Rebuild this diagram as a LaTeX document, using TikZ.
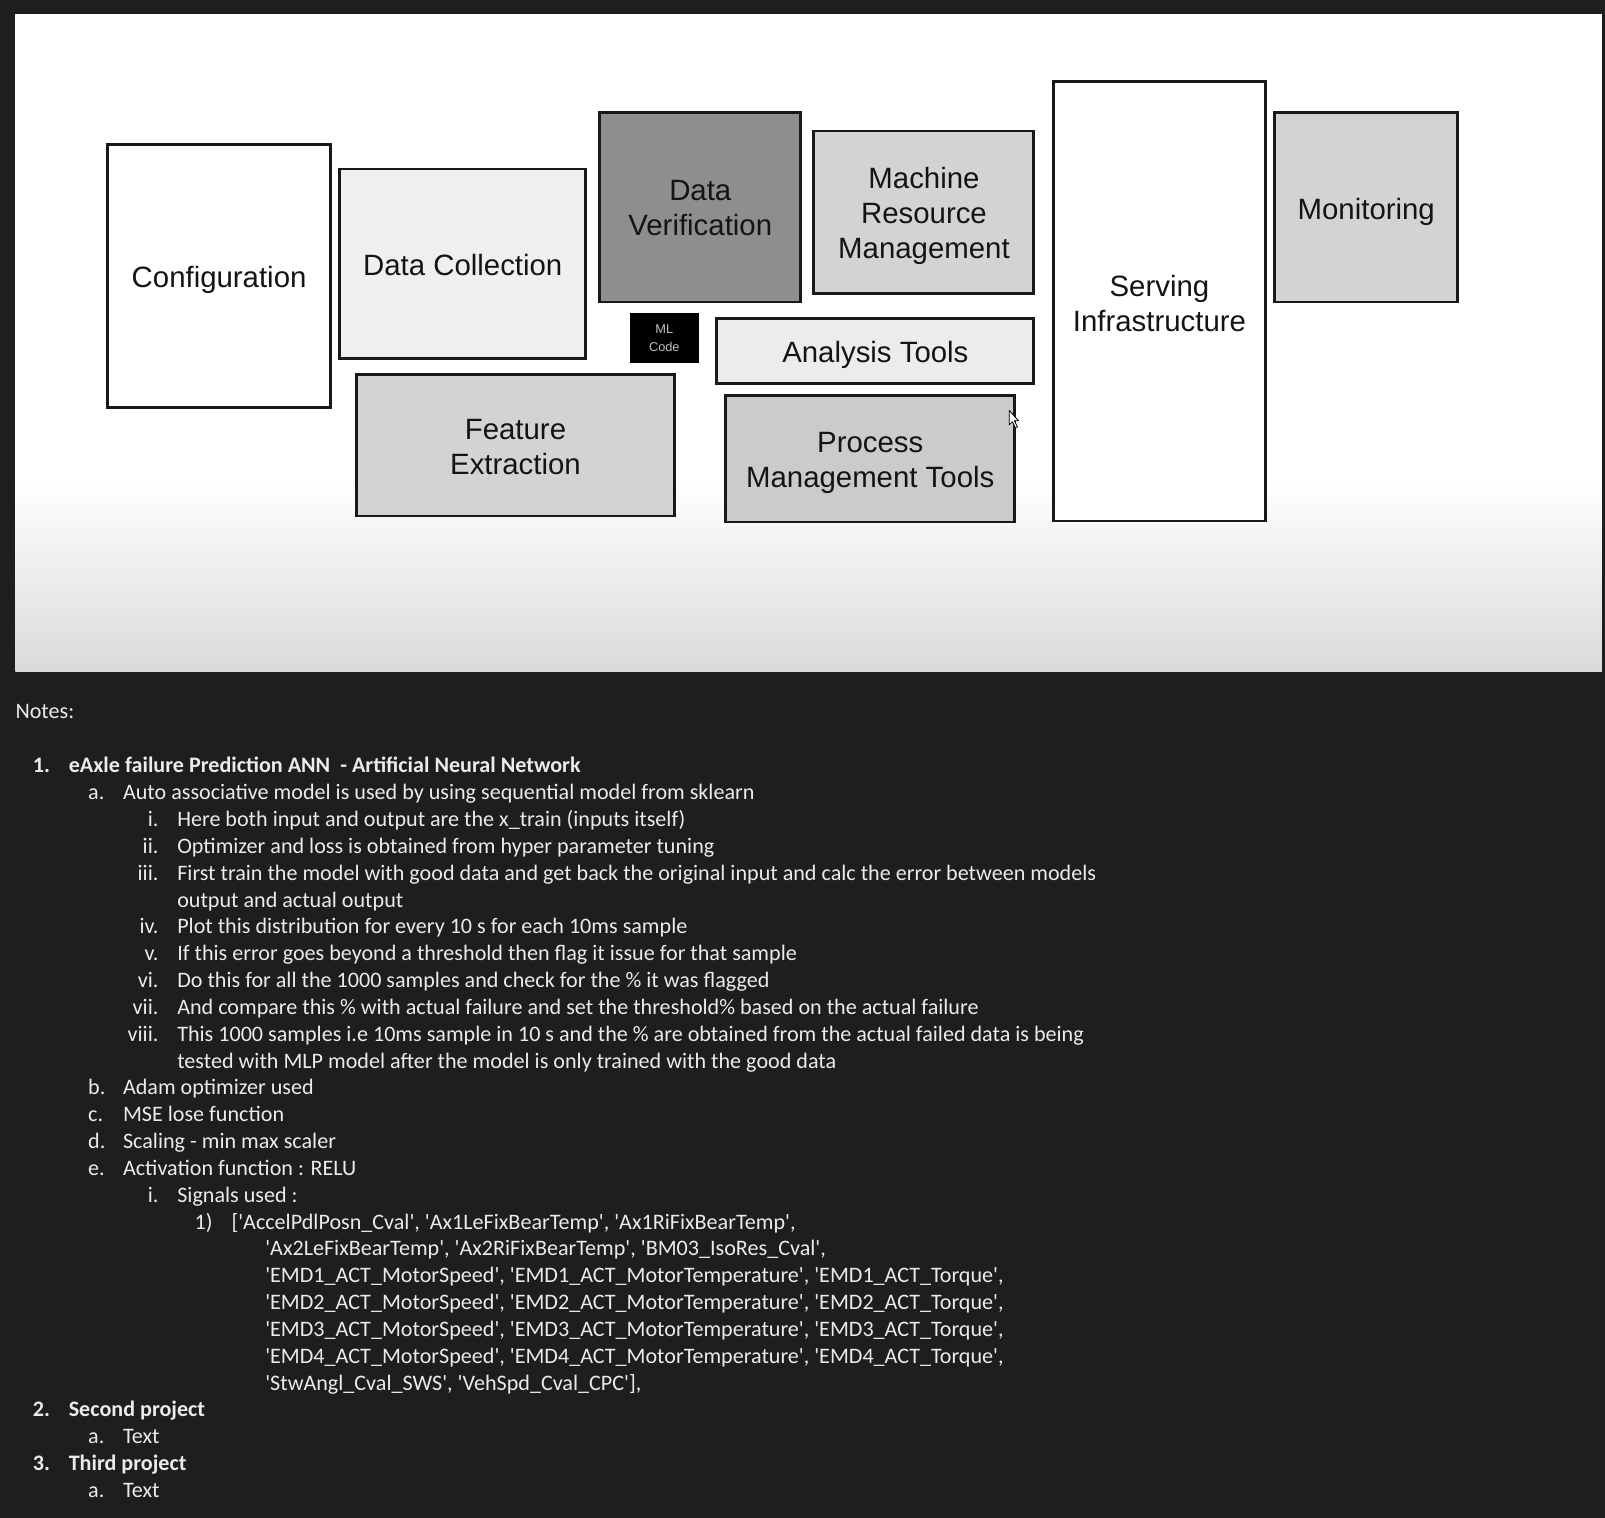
\documentclass[tikz,border=0pt]{standalone}
\usepackage{fontspec}
\newfontfamily\diafont{Liberation Sans}
\newfontfamily\notefont{Carlito}
\definecolor{bgdark}{HTML}{1E1E1E}
\definecolor{notetext}{HTML}{EBEBEB}
\definecolor{verif}{HTML}{8E8E8E}
\definecolor{midgray}{HTML}{D3D3D3}
\definecolor{procgray}{HTML}{CBCBCB}
\definecolor{lightA}{HTML}{EFEFEF}
\definecolor{lightB}{HTML}{ECECEC}
\definecolor{slidebottom}{HTML}{DADADA}
\begin{document}
\begin{tikzpicture}[x=1pt,y=-1pt,scale=1.0236,
  every node/.append style={transform shape},
  box/.style={draw=black!90, line width=2.8pt, inner sep=0pt},
  boxtext/.style={align=center, inner sep=0pt, text=black!92,
    font=\diafont\fontsize{28.7}{34}\selectfont},
  nt/.style={inner sep=0pt, anchor=base west, text=notetext,
    font=\notefont\fontsize{21.6}{26}\selectfont},
  ntb/.style={nt, font=\notefont\bfseries\fontsize{21.6}{26}\selectfont},
  nl/.style={nt, anchor=base east},
]
\useasboundingbox (0,0) rectangle (1568,1483);
\fill[bgdark] (0,0) rectangle (1568,1483);
% slide
\fill[white] (15,14) rectangle (1565,656);
\shade[top color=white, bottom color=slidebottom] (15,470) rectangle (1565,656);

% boxes
\node[box, fill=white, minimum width=218, minimum height=257] (config) at (214,269.5) {};
\node[box, fill=lightA, minimum width=240, minimum height=185] (dcoll) at (452,257.5) {};
\node[box, fill=verif, minimum width=196, minimum height=185] (dver) at (684,202.5) {};
\node[box, fill=midgray, minimum width=215, minimum height=159] (mrm) at (902.5,207.5) {};
\node[fill=black, minimum width=68, minimum height=49, inner sep=0pt, align=center, text=black!25,
  font=\diafont\fontsize{12.5}{17}\selectfont] (ml) at (649,330.5) {ML\\Code};
\node[box, fill=lightB, minimum width=310, minimum height=64] (anal) at (855,343) {};
\node[box, fill=midgray, minimum width=311, minimum height=138] (feat) at (503.5,435) {};
\node[box, fill=procgray, minimum width=282, minimum height=124] (proc) at (850,448) {};
\node[box, fill=white, minimum width=207, minimum height=429] (serv) at (1132.5,294.5) {};
\node[box, fill=midgray, minimum width=179, minimum height=185] (mon) at (1334.5,202.5) {};

% box texts
\node[boxtext] (configT) at ([yshift=-4pt]config.center) {Configuration};
\node[boxtext] (dcollT) at ([yshift=-1.5pt]dcoll.center) {Data Collection};
\node[boxtext] (dverT) at ([yshift=-1pt]dver.center) {Data\\Verification};
\node[boxtext] (mrmT) at ([yshift=-3.5pt]mrm.center) {Machine\\Resource\\Management};
\node[boxtext] (analT) at ([yshift=-4pt]anal.center) {Analysis Tools};
\node[boxtext] (featT) at ([yshift=-2pt]feat.center) {Feature\\Extraction};
\node[boxtext] (procT) at ([yshift=-4pt]proc.center) {Process\\Management Tools};
\node[boxtext] (servT) at ([yshift=-2pt]serv.center) {Serving\\Infrastructure};
\node[boxtext] (monT) at ([yshift=-4pt]mon.center) {Monitoring};

% mouse cursor
\filldraw[fill=white, draw=black, line width=0.8pt, line join=round]
  (986,401) -- (986,415) -- (989,412) -- (992,418) -- (994,417) -- (991,411) -- (995,411) -- cycle;

% notes
\node[nt] (notes) at (15,702) {Notes:};

\node[ntb] (l0n) at (32,755) {1.};
\node[ntb] (l0) at (67,755) {eAxle failure Prediction ANN~ - Artificial Neural Network};
\node[nt] (l1n) at (86,781.2) {a.};
\node[nt] (l1) at (120,781.2) {Auto associative model is used by using sequential model from sklearn};
\node[nl] (l2n) at (155,807.4) {i.};
\node[nt] (l2) at (173,807.4) {Here both input and output are the x\_train (inputs itself)};
\node[nl] (l3n) at (155,833.7) {ii.};
\node[nt] (l3) at (173,833.7) {Optimizer and loss is obtained from hyper parameter tuning};
\node[nl] (l4n) at (155,859.9) {iii.};
\node[nt] (l4) at (173,859.9) {First train the model with good data and get back the original input and calc the error between models};
\node[nt] (l5) at (173,886.1) {output and actual output};
\node[nl] (l6n) at (155,912.3) {iv.};
\node[nt] (l6) at (173,912.3) {Plot this distribution for every 10 s for each 10ms sample};
\node[nl] (l7n) at (155,938.5) {v.};
\node[nt] (l7) at (173,938.5) {If this error goes beyond a threshold then flag it issue for that sample};
\node[nl] (l8n) at (155,964.8) {vi.};
\node[nt] (l8) at (173,964.8) {Do this for all the 1000 samples and check for the \% it was flagged};
\node[nl] (l9n) at (155,991.0) {vii.};
\node[nt] (l9) at (173,991.0) {And compare this \% with actual failure and set the threshold\% based on the actual failure};
\node[nl] (l10n) at (155,1017.2) {viii.};
\node[nt] (l10) at (173,1017.2) {This 1000 samples i.e 10ms sample in 10 s and the \% are obtained from the actual failed data is being};
\node[nt] (l11) at (173,1043.4) {tested with MLP model after the model is only trained with the good data};
\node[nt] (l12n) at (86,1069.6) {b.};
\node[nt] (l12) at (120,1069.6) {Adam optimizer used};
\node[nt] (l13n) at (86,1095.9) {c.};
\node[nt] (l13) at (120,1095.9) {MSE lose function};
\node[nt] (l14n) at (86,1122.1) {d.};
\node[nt] (l14) at (120,1122.1) {Scaling - min max scaler};
\node[nt] (l15n) at (86,1148.3) {e.};
\node[nt] (l15) at (120,1148.3) {Activation function : RELU};
\node[nl] (l16n) at (155,1174.5) {i.};
\node[nt] (l16) at (173,1174.5) {Signals used :};
\node[nt] (l17n) at (190,1200.7) {1)};
\node[nt] (l17) at (226,1200.7) {['AccelPdlPosn\_Cval', 'Ax1LeFixBearTemp', 'Ax1RiFixBearTemp',};
\node[nt] (l18) at (259,1227.0) {'Ax2LeFixBearTemp', 'Ax2RiFixBearTemp', 'BM03\_IsoRes\_Cval',};
\node[nt] (l19) at (259,1253.2) {'EMD1\_ACT\_MotorSpeed', 'EMD1\_ACT\_MotorTemperature', 'EMD1\_ACT\_Torque',};
\node[nt] (l20) at (259,1279.4) {'EMD2\_ACT\_MotorSpeed', 'EMD2\_ACT\_MotorTemperature', 'EMD2\_ACT\_Torque',};
\node[nt] (l21) at (259,1305.6) {'EMD3\_ACT\_MotorSpeed', 'EMD3\_ACT\_MotorTemperature', 'EMD3\_ACT\_Torque',};
\node[nt] (l22) at (259,1331.8) {'EMD4\_ACT\_MotorSpeed', 'EMD4\_ACT\_MotorTemperature', 'EMD4\_ACT\_Torque',};
\node[nt] (l23) at (259,1358.1) {'StwAngl\_Cval\_SWS', 'VehSpd\_Cval\_CPC'],};
\node[ntb] (l24n) at (32,1384.3) {2.};
\node[ntb] (l24) at (67,1384.3) {Second project};
\node[nt] (l25n) at (86,1410.5) {a.};
\node[nt] (l25) at (120,1410.5) {Text};
\node[ntb] (l26n) at (32,1436.7) {3.};
\node[ntb] (l26) at (67,1436.7) {Third project};
\node[nt] (l27n) at (86,1462.9) {a.};
\node[nt] (l27) at (120,1462.9) {Text};
\end{tikzpicture}
\end{document}
